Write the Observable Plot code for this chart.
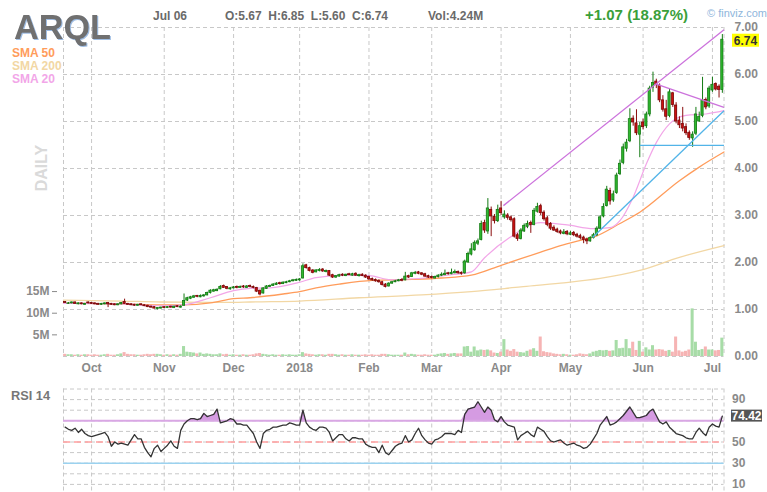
<!DOCTYPE html>
<html><head><meta charset="utf-8">
<script src="https://cdn.jsdelivr.net/npm/d3@7"></script>
<script src="https://cdn.jsdelivr.net/npm/@observablehq/plot@0.6"></script>
<style>
body{margin:0;background:#fff;}
#wrap{position:relative;width:767px;height:492px;overflow:hidden;background:#fff;}
#wrap svg{position:absolute;left:0;}
</style></head>
<body><div id="wrap"></div>
<script>
// ---------- DATA (trading-day index: 0 = Oct 2 2017, first bar = -8 = Sep 20 2017, last = 191 = Jul 6 2018) ----------
const FIRST = -8;
const open = [
1.16,1.12,1.13,1.15,1.11,1.13,1.10,1.15,
1.14,1.13,1.12,1.10,1.11,1.14,1.12,1.11,1.09,1.11,
1.16,1.12,1.11,1.10,1.08,1.11,1.09,1.08,1.06,1.05,
1.01,1.02,1.05,1.03,1.06,1.03,1.07,1.04,1.08,1.19,
1.23,1.25,1.29,1.26,1.28,1.30,1.35,1.38,1.39,1.43,
1.50,1.48,1.43,1.45,1.48,1.46,1.49,1.46,1.50,1.48,
1.46,1.40,1.34,1.44,1.48,1.50,1.52,1.56,1.54,1.56,
1.58,1.60,1.61,1.62,1.66,1.94,1.88,1.83,1.79,1.82,
1.85,1.80,1.82,1.73,1.68,1.70,1.74,1.71,1.75,1.72,
1.76,1.71,1.74,1.72,1.69,1.65,1.63,1.61,1.58,1.53,
1.49,1.55,1.58,1.60,1.63,1.62,1.71,1.69,1.76,1.79,
1.77,1.75,1.71,1.69,1.66,1.69,1.72,1.73,1.77,1.75,
1.77,1.80,1.78,1.77,2.00,2.17,2.26,2.40,2.48,2.84,
2.66,3.12,2.97,2.88,3.15,2.96,3.00,2.96,2.92,2.58,
2.50,2.66,2.76,2.84,2.80,3.08,3.20,3.06,2.94,2.82,
2.74,2.70,2.66,2.61,2.65,2.59,2.63,2.59,2.56,2.53,
2.49,2.45,2.52,2.58,2.72,2.98,3.20,3.52,3.32,3.48,
3.88,4.12,4.42,4.58,5.06,4.96,4.72,4.98,4.90,5.15,
5.72,5.85,5.76,5.45,5.26,5.12,5.60,5.34,5.02,4.95,
4.88,4.76,4.64,4.74,5.00,5.12,5.46,5.32,5.66,5.80,
5.74,5.67];
const high = [
1.17,1.15,1.16,1.16,1.14,1.14,1.13,1.16,
1.15,1.14,1.13,1.13,1.14,1.15,1.13,1.12,1.12,1.15,
1.22,1.13,1.12,1.11,1.11,1.12,1.10,1.09,1.07,1.06,
1.04,1.05,1.06,1.06,1.07,1.07,1.08,1.08,1.33,1.26,
1.28,1.30,1.30,1.31,1.32,1.37,1.42,1.43,1.44,1.51,
1.52,1.49,1.47,1.49,1.50,1.50,1.51,1.51,1.52,1.50,
1.47,1.41,1.46,1.51,1.52,1.55,1.57,1.58,1.59,1.60,
1.62,1.64,1.65,1.66,1.97,1.96,1.90,1.85,1.85,1.87,
1.87,1.84,1.83,1.75,1.72,1.75,1.76,1.75,1.77,1.77,
1.78,1.75,1.76,1.74,1.71,1.67,1.65,1.63,1.60,1.55,
1.57,1.60,1.62,1.64,1.66,1.79,1.73,1.79,1.81,1.81,
1.78,1.77,1.73,1.71,1.71,1.74,1.78,1.84,1.79,1.86,
1.84,1.82,1.80,2.05,2.22,2.40,2.46,2.50,2.88,2.90,
3.36,3.18,3.02,3.22,3.30,3.10,3.04,2.99,2.95,2.62,
2.72,2.82,2.88,2.88,3.15,3.26,3.24,3.10,2.98,2.85,
2.78,2.73,2.69,2.70,2.68,2.66,2.66,2.62,2.60,2.56,
2.52,2.55,2.62,2.76,3.00,3.25,3.62,3.58,3.52,3.90,
4.18,4.52,4.62,5.27,5.12,5.25,4.98,5.05,5.20,5.75,
6.05,5.90,5.80,5.55,5.45,5.70,5.62,5.40,5.10,5.30,
4.95,4.80,4.78,5.30,5.20,5.94,5.50,5.75,5.94,5.82,
5.78,6.85];
const low = [
1.13,1.11,1.12,1.11,1.10,1.10,1.09,1.12,
1.11,1.10,1.09,1.09,1.10,1.04,1.09,1.08,1.08,1.10,
1.11,1.09,1.08,1.07,1.07,1.08,1.06,1.04,1.03,1.01,
0.99,1.01,1.02,1.02,1.03,1.02,1.04,1.03,1.07,1.17,
1.21,1.24,1.25,1.25,1.26,1.29,1.33,1.37,1.38,1.42,
1.45,1.42,1.41,1.44,1.44,1.45,1.45,1.45,1.46,1.44,
1.36,1.29,1.33,1.43,1.47,1.49,1.51,1.52,1.53,1.55,
1.57,1.59,1.60,1.60,1.65,1.86,1.80,1.76,1.78,1.80,
1.79,1.78,1.70,1.66,1.66,1.69,1.70,1.70,1.72,1.71,
1.71,1.69,1.70,1.66,1.62,1.60,1.58,1.56,1.50,1.46,
1.48,1.54,1.57,1.59,1.59,1.61,1.66,1.68,1.74,1.74,
1.72,1.68,1.66,1.65,1.65,1.67,1.70,1.72,1.73,1.74,
1.76,1.75,1.73,1.75,1.98,2.14,2.24,2.36,2.46,2.62,
2.60,2.55,2.82,2.85,3.00,2.92,2.90,2.86,2.52,2.45,
2.48,2.64,2.72,2.62,2.78,3.05,3.00,2.88,2.76,2.68,
2.66,2.62,2.59,2.59,2.57,2.57,2.55,2.52,2.48,2.40,
2.38,2.43,2.50,2.55,2.70,2.95,3.18,3.22,3.28,3.45,
3.85,4.08,4.35,4.55,4.90,4.70,4.23,4.82,4.85,5.10,
5.62,5.70,5.40,5.20,5.02,5.08,5.30,4.95,4.85,4.78,
4.70,4.60,4.45,4.70,4.98,5.08,5.25,5.28,5.62,5.65,
5.50,5.60];
const close = [
1.14,1.13,1.15,1.12,1.13,1.11,1.12,1.13,
1.12,1.11,1.10,1.12,1.13,1.11,1.10,1.09,1.11,1.14,
1.12,1.10,1.09,1.08,1.10,1.09,1.07,1.05,1.04,1.02,
1.03,1.04,1.03,1.05,1.04,1.06,1.05,1.06,1.18,1.24,
1.26,1.28,1.27,1.29,1.30,1.35,1.40,1.41,1.42,1.48,
1.46,1.44,1.45,1.47,1.46,1.48,1.47,1.49,1.48,1.46,
1.38,1.32,1.45,1.49,1.50,1.53,1.55,1.54,1.57,1.58,
1.60,1.62,1.63,1.64,1.92,1.88,1.82,1.78,1.83,1.84,
1.81,1.82,1.72,1.68,1.71,1.73,1.72,1.74,1.73,1.75,
1.72,1.73,1.71,1.68,1.64,1.62,1.60,1.58,1.52,1.48,
1.55,1.58,1.60,1.62,1.61,1.70,1.68,1.77,1.78,1.76,
1.74,1.70,1.68,1.67,1.69,1.72,1.74,1.76,1.75,1.78,
1.80,1.77,1.76,2.02,2.18,2.28,2.42,2.45,2.82,2.68,
3.15,2.98,2.88,3.12,3.05,3.02,2.95,2.90,2.55,2.50,
2.68,2.78,2.82,2.80,3.10,3.18,3.05,2.92,2.80,2.72,
2.68,2.65,2.62,2.64,2.60,2.62,2.58,2.55,2.52,2.48,
2.45,2.52,2.58,2.72,2.96,3.18,3.55,3.30,3.45,3.85,
4.10,4.45,4.55,5.05,4.98,4.75,4.90,4.88,5.15,5.70,
5.82,5.78,5.45,5.25,5.10,5.62,5.35,5.00,4.92,4.85,
4.75,4.65,4.72,5.15,5.10,5.45,5.30,5.70,5.78,5.68,
5.67,6.74];
// volume, millions of shares
const volume = [
0.5,0.4,0.4,0.3,0.4,0.3,0.4,0.4,
0.3,0.4,0.3,0.3,0.4,0.5,0.3,0.3,0.4,0.6,
0.9,0.5,0.4,0.4,0.3,0.3,0.4,0.5,0.4,0.5,
0.5,0.4,0.3,0.4,0.3,0.4,0.3,0.5,2.3,1.0,
0.9,0.8,0.6,0.8,0.5,0.6,0.5,0.4,0.4,0.6,
0.4,0.5,0.3,0.4,0.3,0.3,0.4,0.3,0.3,0.4,
0.6,0.7,0.5,0.4,0.3,0.4,0.3,0.3,0.4,0.3,
0.4,0.3,0.3,0.4,0.9,0.6,0.5,0.4,0.3,0.4,
0.4,0.3,0.5,0.5,0.4,0.3,0.4,0.3,0.3,0.4,
0.3,0.3,0.3,0.4,0.3,0.4,0.3,0.3,0.5,0.5,
0.4,0.3,0.3,0.3,0.3,0.8,0.4,0.5,0.4,0.3,
0.3,0.4,0.3,0.3,0.3,0.5,0.6,0.7,0.5,0.6,
0.7,0.6,0.6,2.2,2.3,1.0,2.2,1.3,1.5,1.4,
1.5,1.3,0.8,0.7,1.0,3.9,1.5,1.2,1.6,1.0,
0.9,0.8,1.2,1.5,1.8,1.2,4.5,1.1,0.9,0.8,
0.6,0.5,0.4,0.5,0.4,0.3,0.3,0.4,0.6,0.5,
0.4,0.6,1.0,1.2,1.4,1.3,1.4,1.2,1.3,3.7,
1.8,1.9,3.9,1.8,3.3,1.4,3.5,1.0,2.0,1.5,
2.5,1.5,1.6,1.5,1.2,1.4,1.0,4.5,1.3,1.0,
1.2,1.5,11.0,3.3,1.4,1.6,2.2,1.5,1.5,1.3,
1.4,4.24];
const rsi = [
64,62,61,63,59,62,58,56,
55,56,57,58,59,55,46,50,48,49,
48,47,52,57,53,53,45,40,36,44,
47,41,44,47,51,46,44,61,67,70,
72,72,71,72,77,74,75,76,81,68,
69,70,72,71,67,67,66,66,62,58,
50,44,58,61,62,64,64,65,66,66,
68,67,66,66,80,68,64,62,61,64,
64,63,59,51,54,57,57,53,51,54,
54,53,53,48,46,45,45,40,47,40,
38,42,46,48,49,56,50,52,58,63,
56,52,49,48,52,53,55,58,58,58,
57,61,59,76,81,82,83,88,83,78,
83,80,71,69,74,69,66,65,64,52,
56,58,60,57,55,64,62,60,55,51,
50,51,52,49,47,48,49,47,46,44,
45,48,53,58,66,70,74,66,67,69,
72,75,79,83,78,73,73,74,75,79,
81,75,69,67,69,64,61,58,57,56,
54,53,53,59,63,59,56,64,67,65,
64,74.42];
// moving averages: [trading-day index, value]
const sma50 = [[-8.5,1.13],[9,1.12],[22,1.10],[28,1.10],[36,1.14],[43,1.23],[48,1.25],[58,1.33],[63,1.38],[68,1.46],[75,1.54],[85,1.62],[97,1.64],[106,1.67],[115,1.73],[124,1.94],[136,2.22],[142,2.36],[148,2.47],[152,2.54],[160,2.83],[166,3.07],[178,3.74],[184,4.03],[191.5,4.35]];
const sma200 = [[-8.5,1.20],[9,1.18],[21,1.16],[43,1.15],[48,1.16],[63,1.18],[81,1.25],[100,1.31],[115,1.38],[130,1.48],[142,1.56],[154,1.66],[166,1.83],[178,2.11],[191.5,2.36]];
const sma20 = [[-8.5,1.13],[9,1.12],[21,1.08],[28,1.10],[36,1.25],[43,1.40],[48,1.45],[54,1.46],[63,1.58],[68,1.68],[78,1.73],[84,1.72],[91,1.63],[99,1.66],[109,1.74],[115,1.80],[119,2.10],[127,2.55],[136,2.85],[144,2.80],[152,2.72],[157,2.74],[160,2.89],[164,3.39],[168,4.10],[171,4.55],[175,4.95],[180,5.13],[186,5.16],[191.5,5.23]];
// trend lines: start index, start price, end index, end price
const trendX1 = [124.7, 170.8, 151.7, 166];
const trendY1 = [3.21, 5.80, 2.53, 4.49];
const trendX2 = [191.5, 191.5, 191.5, 191.5];
const trendY2 = [6.95, 5.30, 5.23, 4.49];
const trendColor = ["#cc72dc", "#cc72dc", "#52b4e8", "#52b4e8"];
// axis ticks
const monthIdx = [0, 22, 43, 63, 84, 103, 124, 145, 167, 188];
const monthLabels = ["Oct","Nov","Dec","2018","Feb","Mar","Apr","May","Jun","Jul"];
const priceTicks = [0,1,2,3,4,5,6,7];
const volTicks = [5,10,15];
const rsiTicks = [10,30,50,90];   // the 70 label sits under the current-value badge
const rsiGrid = [10,20,30,40,50,60,70,80,90,100];
// header texts
const ticker = "ARQL";
const dateLabel = "Jul 06";
const ohlcLabel = "O:5.67  H:6.85  L:5.60  C:6.74";
const volLabel = "Vol:4.24M";
const changeLabel = "+1.07 (18.87%)";
const legendNames = ["SMA 50", "SMA 200", "SMA 20"];
const legendColors = ["#ff9c5b", "#f2d7a4", "#f2a6e8"];

// ---------- BUILD ----------
const FONT = "Arial, 'Liberation Sans', Helvetica, sans-serif";
const wrap = document.getElementById("wrap");
const bars = close.map((c, i) => ({t: i + FIRST, o: open[i], h: high[i], l: low[i], c, v: volume[i], up: c >= open[i]}));
const rsiData = rsi.map((r, i) => ({t: i + FIRST, r}));
const VK = 7 / 76; // price units per million shares (volume shares the price panel)
const xDom = [FIRST - 0.5, 191.5];
const grid = {stroke: "#c8c8c8", strokeDasharray: "4,3", strokeWidth: 1};
const monthMap = new Map(monthIdx.map((d, i) => [d, monthLabels[i]]));
const trends = trendX1.map((d, i) => ({x1: d, y1: trendY1[i], x2: trendX2[i], y2: trendY2[i], c: trendColor[i]}));
const axisText = {fontSize: 12, fontWeight: "bold", fontFamily: FONT};

const price = Plot.plot({
  width: 767, height: 385,
  marginLeft: 63, marginRight: 43.5, marginTop: 27, marginBottom: 29,
  style: {fontFamily: FONT, background: "transparent", overflow: "visible"},
  x: {domain: xDom, axis: null, label: null},
  y: {domain: [0, 7], axis: null, label: null},
  marks: [
    Plot.ruleY(priceTicks, grid),
    Plot.ruleX([xDom[0], ...monthIdx, xDom[1]], grid),
    Plot.rect(bars, {x1: d => d.t - 0.46, x2: d => d.t + 0.46, y1: 0, y2: d => d.v * VK, fill: d => d.up ? "#a7dca7" : "#f6b4b4"}),
    Plot.line(sma200, {x: d => d[0], y: d => d[1], stroke: legendColors[1], strokeWidth: 1.3, curve: "monotone-x"}),
    Plot.line(sma50, {x: d => d[0], y: d => d[1], stroke: legendColors[0], strokeWidth: 1.3, curve: "monotone-x"}),
    Plot.line(sma20, {x: d => d[0], y: d => d[1], stroke: legendColors[2], strokeWidth: 1.2, curve: "monotone-x"}),
    Plot.ruleX(bars, {x: "t", y1: "l", y2: "h", stroke: d => d.up ? "#137a13" : "#8a0d0d", strokeWidth: 1}),
    Plot.rect(bars, {x1: d => d.t - 0.33, x2: d => d.t + 0.33, y1: "o", y2: "c", fill: d => d.up ? "#2fb92f" : "#cc1010", stroke: d => d.up ? "#137a13" : "#7a0a0a", strokeWidth: 0.8}),
    Plot.link(trends, {x1: "x1", y1: "y1", x2: "x2", y2: "y2", stroke: "c", strokeWidth: 1.3}),
    Plot.axisY(priceTicks, {anchor: "right", label: null, tickSize: 0, tickPadding: 10.5, tickFormat: d => d.toFixed(2), color: "#8a8a8a", ...axisText}),
    Plot.axisY(volTicks.map(v => v * VK), {anchor: "left", label: null, tickSize: 5, tickPadding: 3, dx: -6, tickFormat: d => Math.round(d / VK) + "M", color: "#8a8a8a", ...axisText}),
    Plot.axisX(monthIdx, {anchor: "bottom", label: null, tickSize: 0, tickPadding: 7, tickFormat: d => monthMap.get(d), color: "#8a8a8a", ...axisText})
  ]
});
price.style.top = "0px";
wrap.appendChild(price);

const rsiPlot = Plot.plot({
  width: 767, height: 117,
  marginLeft: 63, marginRight: 43.5, marginTop: 13.5, marginBottom: 0,
  style: {fontFamily: FONT, background: "transparent", overflow: "visible"},
  x: {domain: xDom, axis: null, label: null},
  y: {domain: [0, 100], range: [119.5, 13.5], axis: null, label: null},
  marks: [
    Plot.ruleY(rsiGrid, grid),
    Plot.ruleX([xDom[0], ...monthIdx, xDom[1]], grid),
    Plot.areaY(rsiData, {x: "t", y1: 70, y2: d => Math.max(70, d.r), fill: "#d59be2"}),
    Plot.ruleY([70], {stroke: "#d9a7e4", strokeWidth: 2}),
    Plot.ruleY([50], {stroke: "#ff9f9f", strokeWidth: 1.6, strokeDasharray: "7,4"}),
    Plot.ruleY([30], {stroke: "#9bd2ef", strokeWidth: 1.6}),
    Plot.line(rsiData, {x: "t", y: "r", stroke: "#333", strokeWidth: 1.3}),
    Plot.axisY(rsiTicks, {anchor: "right", label: null, tickSize: 0, tickPadding: 8, color: "#8a8a8a", ...axisText})
  ]
});
rsiPlot.style.top = "375px";
wrap.appendChild(rsiPlot);

// ---------- overlay texts and badges ----------
const ov = d3.create("svg").attr("width", 767).attr("height", 492).style("top", "0px").style("font-family", FONT);
const defs = ov.append("defs");
defs.append("filter").attr("id", "tshadow").attr("x", "-10%").attr("y", "-10%").attr("width", "130%").attr("height", "130%")
  .append("feDropShadow").attr("dx", 1).attr("dy", 1).attr("stdDeviation", 0.6).attr("flood-color", "#9fbde3").attr("flood-opacity", 1);
function txt(x, y, s, o = {}) {
  const t = ov.append("text").attr("x", x).attr("y", y).text(s)
    .attr("font-size", o.size || 12).attr("font-weight", o.weight || "bold")
    .attr("fill", o.fill || "#6a6a6a").attr("text-anchor", o.anchor || "start")
    .style("white-space", "pre").attr("xml:space", "preserve");
  if (o.len) t.attr("textLength", o.len).attr("lengthAdjust", "spacingAndGlyphs");
  if (o.transform) t.attr("transform", o.transform);
  if (o.filter) t.attr("filter", o.filter);
  return t;
}
txt(14, 38.5, ticker, {size: 35, fill: "#6f6f6f", len: 97, filter: "url(#tshadow)"});
txt(153, 20, dateLabel, {fill: "#6a6a6a"});
txt(225, 20, ohlcLabel, {fill: "#6a6a6a", len: 163});
txt(428, 20, volLabel, {fill: "#6a6a6a"});
txt(585, 20, changeLabel, {size: 14, fill: "#3a9f3a", len: 103});
txt(707, 17, "\u00a9 finviz.com", {size: 11, weight: "normal", fill: "#8fb6dc", len: 60});
legendNames.forEach((n, i) => txt(12, 57 + i * 13, n, {fill: legendColors[i]}));
txt(46.5, 168, "DAILY", {size: 16, fill: "#dadada", anchor: "middle", transform: "rotate(-90 46.5 168)"});
txt(11, 400, "RSI 14", {size: 12.5, fill: "#777", len: 39});

const yP = price.scale("y");
const lastClose = close[close.length - 1];
const yc = yP.apply(lastClose) + 1;
ov.append("rect").attr("x", 732).attr("y", yc - 6.5).attr("width", 27).attr("height", 13).attr("fill", "#ffff00");
txt(745.5, yc + 4.3, lastClose.toFixed(2), {anchor: "middle", fill: "#333", size: 12});

const yR = rsiPlot.scale("y");
const lastRsi = rsi[rsi.length - 1];
const yr = 375 + yR.apply(lastRsi);
ov.append("rect").attr("x", 731).attr("y", yr - 6).attr("width", 31).attr("height", 12).attr("fill", "#555");
txt(746.5, yr + 4.3, lastRsi.toFixed(2), {anchor: "middle", fill: "#fff", size: 12});

wrap.appendChild(ov.node());
</script>
</body></html>
